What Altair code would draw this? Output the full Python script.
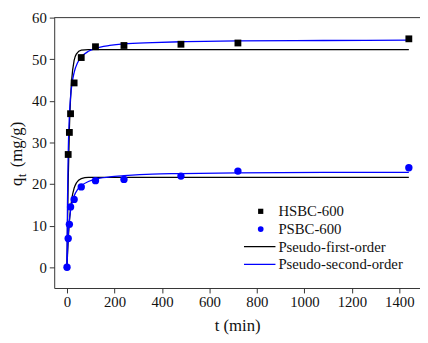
import altair as alt
import pandas as pd

# ---- observed data ----
t_obs = [0, 5, 10, 15, 30, 60, 120, 240, 480, 720, 1440]
hsbc_t = [5, 10, 15, 30, 60, 120, 240, 480, 720, 1440]
hsbc_q = [27.1, 32.4, 36.9, 44.3, 50.4, 53.0, 53.3, 53.6, 53.9, 54.9]
psbc_q = [0, 6.9, 10.3, 14.5, 16.3, 19.3, 20.8, 21.1, 21.9, 23.1, 23.9]

# ---- fitted curves ----
pfo_t = [0, 2, 5, 10, 15, 20, 30, 40, 60, 90, 1440]
hsbc_pfo = [0, 9.5, 20.6, 33.1, 40.6, 45.2, 49.7, 51.3, 52.2, 52.3, 52.3]
psbc_pfo = [0, 2.8, 6.4, 10.9, 14.0, 16.3, 19.0, 20.3, 21.3, 21.6, 21.6]

pso_t = [0, 2, 5, 10, 15, 20, 30, 45, 60, 90, 120, 180, 240, 360, 480, 720, 1080, 1440]
hsbc_pso = [0, 15.4, 27.1, 36.3, 40.9, 43.7, 46.8, 49.2, 50.5, 51.9, 52.6, 53.3, 53.7, 54.0, 54.2, 54.4, 54.5, 54.6]
psbc_pso = [0, 3.7, 7.5, 11.3, 13.6, 15.1, 17.1, 18.7, 19.6, 20.6, 21.2, 21.7, 22.0, 22.4, 22.5, 22.7, 22.8, 22.8]

legend_labels = ["HSBC-600", "PSBC-600", "Pseudo-first-order", "Pseudo-second-order"]
x_ticks = list(range(0, 1401, 100))
y_ticks = list(range(0, 61, 5))

FONT = "Liberation Serif"
W, H = 372, 275
XDOM = [-53.85, 1487]
YDOM = [-5, 60]

curves = pd.concat([
    pd.DataFrame({"t": pfo_t, "q": hsbc_pfo, "curve": "hsbc_pfo", "kind": "pfo"}),
    pd.DataFrame({"t": pfo_t, "q": psbc_pfo, "curve": "psbc_pfo", "kind": "pfo"}),
    pd.DataFrame({"t": pso_t, "q": hsbc_pso, "curve": "hsbc_pso", "kind": "pso"}),
    pd.DataFrame({"t": pso_t, "q": psbc_pso, "curve": "psbc_pso", "kind": "pso"}),
])
hsbc_df = pd.DataFrame({"t": hsbc_t, "q": hsbc_q})
psbc_df = pd.DataFrame({"t": t_obs, "q": psbc_q})

xscale = alt.Scale(domain=XDOM, nice=False, zero=False)
yscale = alt.Scale(domain=YDOM, nice=False, zero=False)

xaxis = alt.Axis(
    values=x_ticks, format="d",
    labelExpr="datum.value % 200 === 0 ? datum.label : ''",
    tickSize={"condition": {"test": "datum.value % 200 === 0", "value": 5}, "value": 3},
    labelPadding=2, labelFont=FONT, labelFontSize=15,
    title="t (min)", titleFont=FONT, titleFontSize=17,
    titleFontWeight="normal", titleColor="#111", titlePadding=8,
)
yaxis = alt.Axis(
    values=y_ticks, format="d",
    labelExpr="datum.value % 10 === 0 ? datum.label : ''",
    tickSize={"condition": {"test": "datum.value % 10 === 0", "value": 5}, "value": 3},
    labelPadding=3, labelFont=FONT, labelFontSize=15, title=None,
)

lines = alt.Chart(curves).mark_line(interpolate="monotone", strokeWidth=1.3, clip=True).encode(
    x=alt.X("t:Q", scale=xscale, axis=xaxis),
    y=alt.Y("q:Q", scale=yscale, axis=yaxis),
    color=alt.Color("kind:N", scale=alt.Scale(domain=["pfo", "pso"], range=["#000000", "#0000ff"]), legend=None),
    detail="curve:N",
)

sq = alt.Chart(hsbc_df).mark_point(shape="square", filled=True, size=48, color="#000000", opacity=1).encode(
    x=alt.X("t:Q", scale=xscale), y=alt.Y("q:Q", scale=yscale)
)
ci = alt.Chart(psbc_df).mark_point(shape="circle", filled=True, size=56, color="#0000ff", opacity=1).encode(
    x=alt.X("t:Q", scale=xscale), y=alt.Y("q:Q", scale=yscale)
)

one = pd.DataFrame({"a": [0]})
top_line = alt.Chart(one).mark_rule(color="#333", strokeWidth=1).encode(
    x=alt.value(0), x2=alt.value(W + 5), y=alt.value(0)
)

# y-axis title: q with subscript t
ytitle = [
    alt.Chart(one).mark_text(text="q", font=FONT, fontSize=17, angle=270, color="#111",
                             align="center", baseline="middle").encode(x=alt.value(-38), y=alt.value(167)),
    alt.Chart(one).mark_text(text="t", font=FONT, fontSize=12, angle=270, color="#111",
                             align="center", baseline="middle").encode(x=alt.value(-33), y=alt.value(160.5)),
    alt.Chart(one).mark_text(text="(mg/g)", font=FONT, fontSize=17, angle=270, color="#111",
                             align="center", baseline="middle").encode(x=alt.value(-38), y=alt.value(129)),
]

# legend
rows = [197, 215, 233, 251]
leg = [
    alt.Chart(one).mark_point(shape="square", filled=True, size=28, color="#000", opacity=1).encode(
        x=alt.value(210), y=alt.value(rows[0])),
    alt.Chart(one).mark_point(shape="circle", filled=True, size=34, color="#0000ff", opacity=1).encode(
        x=alt.value(210), y=alt.value(rows[1])),
    alt.Chart(one).mark_rule(color="#000", strokeWidth=1.3).encode(
        x=alt.value(193), x2=alt.value(225), y=alt.value(rows[2])),
    alt.Chart(one).mark_rule(color="#0000ff", strokeWidth=1.3).encode(
        x=alt.value(193), x2=alt.value(225), y=alt.value(rows[3])),
]
for lab, yy in zip(legend_labels, rows):
    leg.append(alt.Chart(one).mark_text(text=lab, font=FONT, fontSize=15, color="#111",
                                        align="left", baseline="middle").encode(
        x=alt.value(228), y=alt.value(yy)))

chart = alt.layer(lines, sq, ci, top_line, *ytitle, *leg).properties(
    width=W, height=H,
    padding={"left": 47, "top": 7, "right": 0, "bottom": 45},
    autosize="none",
    background="white",
).configure_view(stroke=None).configure_axis(
    domainColor="#333", tickColor="#333",
    labelColor="#111", grid=False, domainWidth=1,
)

chart.save("out.html", embed_options={"renderer": "svg", "actions": False})
